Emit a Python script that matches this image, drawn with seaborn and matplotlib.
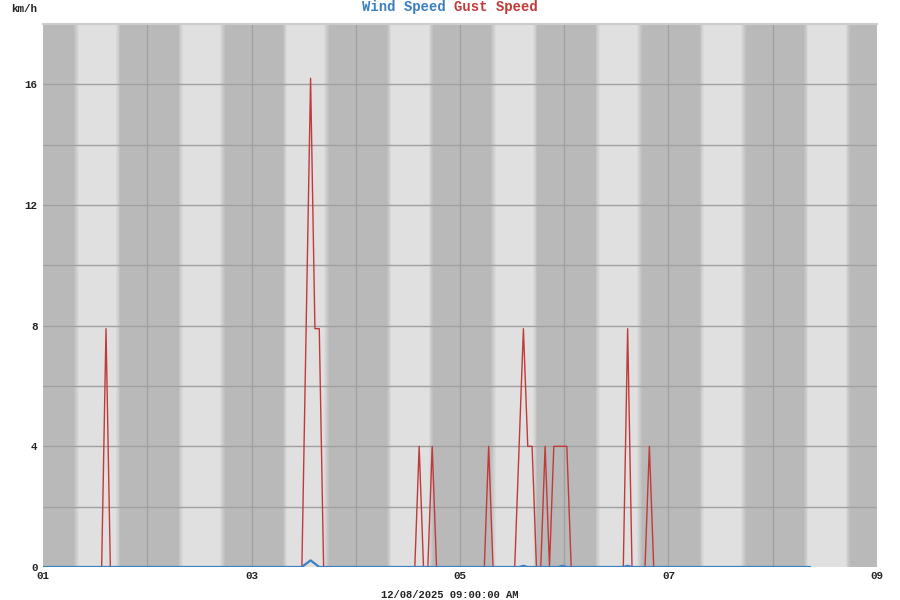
import matplotlib
matplotlib.use("Agg")
import matplotlib.pyplot as plt
import seaborn as sns
import pandas as pd
import numpy as np

# readings, hours since 01 00:00
gust_hours = [0, 13.5, 14.5, 15.5, 59.6, 61.6, 62.6, 63.6, 64.6,
              85.6, 86.6, 87.6, 88.6, 89.6, 90.6, 101.6, 102.6, 103.6,
              108.6, 110.6, 111.6, 112.6, 113.6, 114.6, 115.6, 116.6,
              117.6, 120.6, 121.6, 133.6, 134.6, 135.6, 138.6, 139.6,
              140.6, 176.6]
gust_kmh = [0, 0, 7.9, 0, 0, 16.2, 7.9, 7.9, 0,
            0, 4.0, 0, 0, 4.0, 0, 0, 4.0, 0,
            0, 7.9, 4.0, 4.0, 0, 0, 4.0, 0,
            4.0, 4.0, 0, 0, 7.9, 0, 0, 4.0,
            0, 0]

wind_hours = [0, 59.6, 61.6, 63.6, 109.6, 110.6, 111.6, 118.6, 119.6, 120.6,
              133.6, 134.6, 135.6, 176.6]
wind_kmh = [0, 0, 0.22, 0, 0, 0.04, 0, 0, 0.04, 0,
            0, 0.04, 0, 0]

tick_hours = [0, 48, 96, 144, 192]
tick_labels = ["01", "03", "05", "07", "09"]

gust = pd.DataFrame({"hour": gust_hours, "kmh": gust_kmh})
wind = pd.DataFrame({"hour": wind_hours, "kmh": wind_kmh})

sns.set_theme(style="white")
plt.rcParams['font.family'] = ['Liberation Mono', 'DejaVu Sans']
plt.rcParams['font.weight'] = 'bold'

blue = "#3a80c3"
red = "#c03a3a"
dark = "#b9b9b9"
light = "#e0e0e0"

fig = plt.figure(figsize=(9, 6), dpi=100)
ax = fig.add_axes([0.0478, 0.055, 0.9266, 0.905])
ax.set_facecolor(dark)

# day / night bands with soft edges
dk = np.array(matplotlib.colors.to_rgb(dark))
lt = np.array(matplotlib.colors.to_rgb(light))
for d in range(8):
    start = d * 24 + 8.2
    end = d * 24 + 16.8
    ax.axvspan(start, end, color=light, lw=0, zorder=0)
    for i in range(5):
        c = dk + (lt - dk) * (i + 1) / 6
        ax.axvspan(start - 1.0 + i * 0.2, start - 0.8 + i * 0.2, color=c, lw=0, zorder=0)
        ax.axvspan(end + 0.8 - i * 0.2, end + 1.0 - i * 0.2, color=c, lw=0, zorder=0)

# grid
for h in range(24, 192, 24):
    ax.axvline(h, color="#a0a0a0", lw=1, zorder=1)
for v in range(2, 18, 2):
    ax.axhline(v, color="#a0a0a0", lw=1, zorder=1)

sns.lineplot(data=gust, x="hour", y="kmh", color=red, lw=1, ax=ax, zorder=3)
sns.lineplot(data=wind, x="hour", y="kmh", color=blue, lw=1.6, ax=ax, zorder=4)

ax.set_xlim(0, 192)
ax.set_ylim(0, 18)
ax.set_xticks(tick_hours)
ax.set_xticklabels(tick_labels)
ax.set_yticks([0, 4, 8, 12, 16])
ax.set_yticklabels(["0", "4", "8", "12", "16"])
ax.tick_params(axis="both", length=0, labelsize=7.8, colors="#222222")
ax.tick_params(axis="y", pad=4)
ax.tick_params(axis="x", pad=3)
ax.set_xlabel("")
ax.set_ylabel("")
for s in ["left", "right", "bottom"]:
    ax.spines[s].set_visible(False)
ax.spines["top"].set_color("#cccccc")
ax.spines["top"].set_linewidth(1.5)

fig.text(0.012, 0.985, "km/h", fontsize=7.8, ha="left", va="center", color="#222222")
fig.text(0.4955, 0.989, "Wind Speed", fontsize=10, ha="right", va="center", color=blue)
fig.text(0.5045, 0.989, "Gust Speed", fontsize=10, ha="left", va="center", color=red)
fig.text(0.5, 0.009, "12/08/2025 09:00:00 AM", fontsize=7.6, ha="center", va="center", color="#222222")

fig.savefig("out.png", dpi=100)
